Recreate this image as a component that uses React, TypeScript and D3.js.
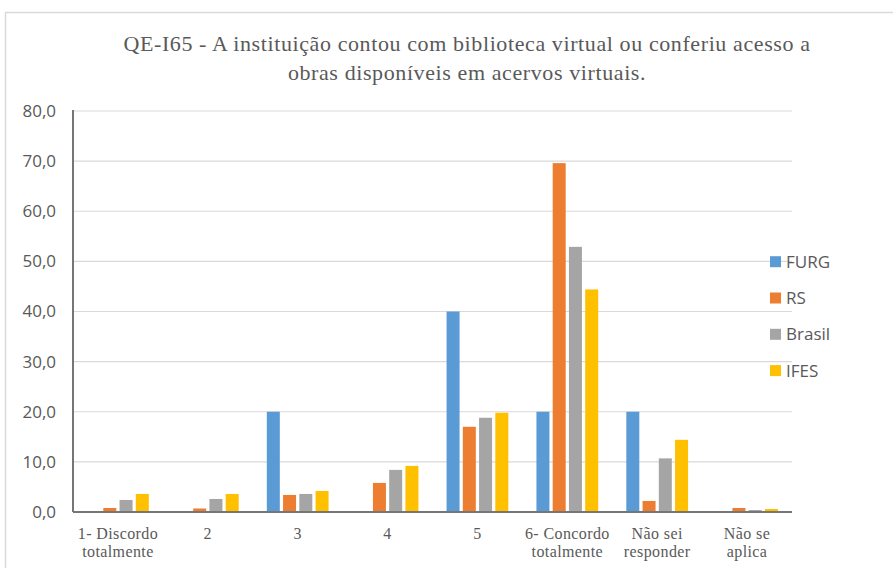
import React from "react";
import * as d3 from "d3";

const categories = [
  ["1- Discordo", "totalmente"],
  ["2"],
  ["3"],
  ["4"],
  ["5"],
  ["6- Concordo", "totalmente"],
  ["Não sei", "responder"],
  ["Não se", "aplica"],
];
const seriesNames = ["FURG", "RS", "Brasil", "IFES"];
const colors = ["#5B9BD5", "#ED7D31", "#A5A5A5", "#FFC000"];
const furg = [0, 0, 20, 0, 40, 20, 20, 0];
const rs = [0.8, 0.7, 3.4, 5.8, 17.0, 69.6, 2.2, 0.8];
const brasil = [2.4, 2.6, 3.6, 8.4, 18.8, 52.9, 10.7, 0.4];
const ifes = [3.6, 3.6, 4.2, 9.2, 19.8, 44.4, 14.4, 0.6];
const yTicks = [0, 10, 20, 30, 40, 50, 60, 70, 80];
const titleLines = [
  "QE-I65 - A instituição contou com biblioteca virtual ou conferiu acesso a",
  "obras disponíveis em acervos virtuais.",
];

const W = 893;
const H = 568;
const plot = { left: 73, right: 792, top: 111, bottom: 512 };

export default function App() {
  const series = [furg, rs, brasil, ifes];
  const x = d3
    .scaleBand<number>()
    .domain(d3.range(categories.length))
    .range([plot.left, plot.right]);
  const y = d3.scaleLinear().domain([0, 80]).range([plot.bottom, plot.top]);
  const groupW = 65;
  const inner = d3
    .scaleBand<number>()
    .domain(d3.range(seriesNames.length))
    .range([0, groupW])
    .paddingInner(0.2)
    .paddingOuter(0.1);
  const fmt = (v: number) => v.toFixed(1).replace(".", ",");
  const sans = "'Open Sans', 'Liberation Sans', sans-serif";
  const serif = "'Liberation Serif', 'Times New Roman', serif";

  return (
    <svg
      width={W}
      height={H}
      style={{ position: "absolute", left: 0, top: 0, background: "#fff" }}
    >
      <rect x={0} y={0} width={W} height={H} fill="#fff" />
      <rect
        x={5.5}
        y={12.5}
        width={W + 10}
        height={H}
        fill="none"
        stroke="#d9d9d9"
        strokeWidth={1.5}
      />
      {titleLines.map((t, i) => (
        <text
          key={i}
          x={467}
          y={51 + i * 29}
          textAnchor="middle"
          fontFamily={serif}
          fontSize={22}
          letterSpacing={0.6}
          fill="#595959"
        >
          {t}
        </text>
      ))}
      {yTicks.map((t) => (
        <g key={t}>
          {t > 0 && (
            <line
              x1={plot.left}
              x2={plot.right}
              y1={y(t)}
              y2={y(t)}
              stroke="#d9d9d9"
              strokeWidth={1.2}
            />
          )}
          <text
            x={56}
            y={y(t)}
            dy="0.35em"
            textAnchor="end"
            fontFamily={sans}
            fontSize={17}
            fill="#595959"
          >
            {fmt(t)}
          </text>
        </g>
      ))}
      {series.map((vals, s) =>
        vals.map((v, i) => {
          const x0 = x(i)! + (x.bandwidth() - groupW) / 2 + inner(s)!;
          return (
            <rect
              key={`${s}-${i}`}
              x={x0}
              y={y(v)}
              width={inner.bandwidth()}
              height={plot.bottom - y(v)}
              fill={colors[s]}
            />
          );
        })
      )}
      <line
        x1={plot.left}
        x2={plot.left}
        y1={plot.top - 1}
        y2={plot.bottom}
        stroke="#767676"
        strokeWidth={2}
      />
      <line
        x1={plot.left}
        x2={plot.right}
        y1={plot.bottom}
        y2={plot.bottom}
        stroke="#767676"
        strokeWidth={2}
      />
      {categories.map((lines, i) =>
        lines.map((l, j) => (
          <text
            key={`${i}-${j}`}
            x={x(i)! + x.bandwidth() / 2}
            y={539 + j * 18.3}
            textAnchor="middle"
            fontFamily={serif}
            fontSize={16}
            letterSpacing={0.4}
            fill="#595959"
          >
            {l}
          </text>
        ))
      )}
      {seriesNames.map((n, i) => (
        <g key={n} transform={`translate(770, ${261.7 + i * 36.3})`}>
          <rect x={0} y={-5.5} width={11} height={11} fill={colors[i]} />
          <text
            x={16}
            y={0}
            dy="0.35em"
            fontFamily={sans}
            fontSize={17}
            fill="#595959"
          >
            {n}
          </text>
        </g>
      ))}
    </svg>
  );
}
